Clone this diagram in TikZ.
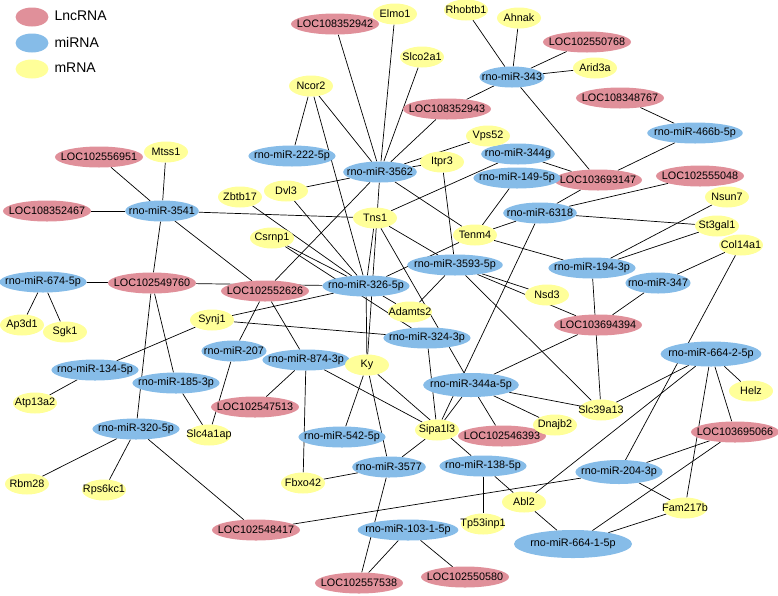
\documentclass[tikz,border=0pt]{standalone}
\usepackage{fontspec}
\setmainfont{Liberation Sans}
\usetikzlibrary{shapes,backgrounds}
\definecolor{lnc}{HTML}{E0909A}
\definecolor{mir}{HTML}{86BCE8}
\definecolor{mrn}{HTML}{FFFF99}
\begin{document}
\begin{tikzpicture}[x=1pt,y=-1pt]
  \tikzstyle{rna} = [ellipse, inner xsep=-7pt, inner ysep=1pt, minimum height=21pt, font=\fontsize{10.8}{12}\selectfont]
  \tikzstyle{lnc} = [rna, fill=lnc]
  \tikzstyle{mir} = [rna, fill=mir]
  \tikzstyle{mrn} = [rna, fill=mrn, minimum width=44pt]
  \tikzstyle{link} = [draw=black, line width=0.7pt]
  \useasboundingbox (0,0) rectangle (778,595);

  % legend
  \node[ellipse, fill=lnc, minimum width=33pt, minimum height=19pt] (kl) at (32,17) {};
  \node[ellipse, fill=mir, minimum width=33pt, minimum height=19pt] (km) at (32,43) {};
  \node[ellipse, fill=mrn, minimum width=33pt, minimum height=19pt] (kr) at (32,69) {};
  \node[anchor=west, font=\fontsize{14}{16}\selectfont] (tl) at (51,16) {LncRNA};
  \node[anchor=west, font=\fontsize{14}{16}\selectfont] (tm) at (51,42) {miRNA};
  \node[anchor=west, font=\fontsize{14}{16}\selectfont] (tr) at (51,68) {mRNA};

  % LncRNA nodes
  \node[lnc] (L942) at (335,24) {LOC108352942};
  \node[lnc] (L768) at (587,42) {LOC102550768};
  \node[lnc] (L943) at (447,109) {LOC108352943};
  \node[lnc] (L767) at (620,98) {LOC108348767};
  \node[lnc] (L951) at (99,157) {LOC102556951};
  \node[lnc] (L467) at (47,211) {LOC108352467};
  \node[lnc] (L147) at (598,180) {LOC103693147};
  \node[lnc] (L048) at (700,176) {LOC102555048};
  \node[lnc] (L760) at (152,283) {LOC102549760};
  \node[lnc] (L626) at (265,291) {LOC102552626};
  \node[lnc] (L394) at (598,325) {LOC103694394};
  \node[lnc] (L513) at (255,407) {LOC102547513};
  \node[lnc] (L393) at (502,436) {LOC102546393};
  \node[lnc] (L066) at (735,432) {LOC103695066};
  \node[lnc] (L417) at (256,530) {LOC102548417};
  \node[lnc] (L538) at (359,583) {LOC102557538};
  \node[lnc] (L580) at (465,577) {LOC102550580};

  % miRNA nodes
  \node[mir] (m343) at (512,77) {rno-miR-343};
  \node[mir] (m466) at (695,133) {rno-miR-466b-5p};
  \node[mir] (m344g) at (518,154) {rno-miR-344g};
  \node[mir] (m3562) at (380,172) {rno-miR-3562};
  \node[mir] (m222) at (292,156) {rno-miR-222-5p};
  \node[mir] (m3541) at (162,211) {rno-miR-3541};
  \node[mir] (m149) at (517,178) {rno-miR-149-5p};
  \node[mir] (m6318) at (540,213) {rno-miR-6318};
  \node[mir] (m3593) at (455,265) {rno-miR-3593-5p};
  \node[mir] (m194) at (592,268) {rno-miR-194-3p};
  \node[mir] (m347) at (658,283) {rno-miR-347};
  \node[mir] (m674) at (43,282) {rno-miR-674-5p};
  \node[mir] (m326) at (366,286) {rno-miR-326-5p};
  \node[mir] (m324) at (427,338) {rno-miR-324-3p};
  \node[mir] (m207) at (234,351) {rno-miR-207};
  \node[mir] (m874) at (306,360) {rno-miR-874-3p};
  \node[mir, minimum height=25pt] (m6642) at (711,354) {rno-miR-664-2-5p};
  \node[mir] (m134) at (95,370) {rno-miR-134-5p};
  \node[mir] (m185) at (176,383) {rno-miR-185-3p};
  \node[mir, minimum height=24pt] (m344a) at (471,385) {rno-miR-344a-5p};
  \node[mir] (m320) at (136,429) {rno-miR-320-5p};
  \node[mir] (m542) at (342,437) {rno-miR-542-5p};
  \node[mir] (m3577) at (389,467) {rno-miR-3577};
  \node[mir] (m138) at (483,466) {rno-miR-138-5p};
  \node[mir, minimum height=24pt] (m204) at (619,472) {rno-miR-204-3p};
  \node[mir, minimum height=28pt, minimum width=118pt] (m6641) at (573,544) {rno-miR-664-1-5p};
  \node[mir] (m103) at (408,530) {rno-miR-103-1-5p};

  % mRNA nodes
  \node[mrn] (elmo) at (395,14) {Elmo1};
  \node[mrn] (rhob) at (466,10) {Rhobtb1};
  \node[mrn] (ahnk) at (519,18) {Ahnak};
  \node[mrn] (arid) at (595,68) {Arid3a};
  \node[mrn] (slco) at (422,57) {Slco2a1};
  \node[mrn] (ncor) at (311,86) {Ncor2};
  \node[mrn] (vps) at (488,136) {Vps52};
  \node[mrn] (itpr) at (442,162) {Itpr3};
  \node[mrn] (mtss) at (166,152) {Mtss1};
  \node[mrn] (zbtb) at (240,197) {Zbtb17};
  \node[mrn] (dvl) at (286,191) {Dvl3};
  \node[mrn] (tns) at (375,218) {Tns1};
  \node[mrn] (tenm) at (475,235) {Tenm4};
  \node[mrn] (nsun) at (727,197) {Nsun7};
  \node[mrn] (st3g) at (717,226) {St3gal1};
  \node[mrn] (col14) at (741,245) {Col14a1};
  \node[mrn] (csrn) at (272,238) {Csrnp1};
  \node[mrn] (nsd) at (547,295) {Nsd3};
  \node[mrn] (adam) at (410,312) {Adamts2};
  \node[mrn] (ap3) at (22,325) {Ap3d1};
  \node[mrn] (sgk) at (65,332) {Sgk1};
  \node[mrn] (synj) at (212,320) {Synj1};
  \node[mrn] (ky) at (367,365) {Ky};
  \node[mrn] (helz) at (751,391) {Helz};
  \node[mrn] (atp) at (35,403) {Atp13a2};
  \node[mrn] (slc39) at (601,410) {Slc39a13};
  \node[mrn] (sipa) at (437,430) {Sipa1l3};
  \node[mrn] (dnaj) at (555,425) {Dnajb2};
  \node[mrn] (slc4) at (209,435) {Slc4a1ap};
  \node[mrn] (fbxo) at (303,483) {Fbxo42};
  \node[mrn] (rbm) at (27,484) {Rbm28};
  \node[mrn] (rps) at (104,490) {Rps6kc1};
  \node[mrn] (abl) at (524,502) {Abl2};
  \node[mrn] (fam) at (685,508) {Fam217b};
  \node[mrn] (tp53) at (483,524) {Tp53inp1};

  % connection lines
  \begin{pgfonlayer}{background}
  \foreach \a/\b in {L942/m3562, elmo/m3562, slco/m3562, L943/m3562, vps/m3562,
      itpr/m3562, ncor/m3562, ncor/m222, ncor/m326, dvl/m3562, dvl/m326,
      zbtb/m326, csrn/m326, csrn/m324, m3562/tenm, m3562/ky, m3562/L626,
      rhob/m343, ahnk/m343, L768/m343, arid/m343, m343/L943, m343/L147,
      L767/m466, m466/L147, m344g/L147, m344g/tns, L147/m6318, m6318/L048,
      m6318/st3g, m6318/tenm, m6318/sipa, m149/tenm,
      m3541/L951, m3541/mtss, m3541/L467, m3541/tns, m3541/L760, m3541/L626,
      L760/m674, L760/m326, L760/m320, L760/m185,
      tns/m326, tns/m3593, tns/m344a, tenm/m326, tenm/m194, itpr/m3593,
      m3593/nsd, m3593/adam, m3593/L394, m3593/slc39,
      L394/m347, L394/m344a, m194/nsun, m194/st3g, m194/slc39,
      col14/m347, col14/m204,
      m6642/helz, m6642/L066, m6642/fam, m6642/slc39, m6642/abl,
      L066/m204, L066/m6641, m204/fam, m204/L417, m6641/fam, m6641/abl,
      m138/abl, m138/tp53, ky/m138, ky/m542, ky/m3577, m326/ky, m326/adam, synj/m326,
      m3577/sipa, m3577/fbxo, m3577/L538, m103/L538, m103/L580,
      m874/L626, m874/L513, m874/fbxo, m874/sipa, m207/L626, m207/slc4, m185/slc4,
      synj/m134, synj/m324, m324/sipa,
      m344a/sipa, m344a/L393, m344a/dnaj, m344a/slc39,
      m320/rbm, m320/rps, m320/L417, m134/atp, m674/ap3, m674/sgk}
    \path[link] (\a) -- (\b);
  \end{pgfonlayer}

\end{tikzpicture}
\end{document}
